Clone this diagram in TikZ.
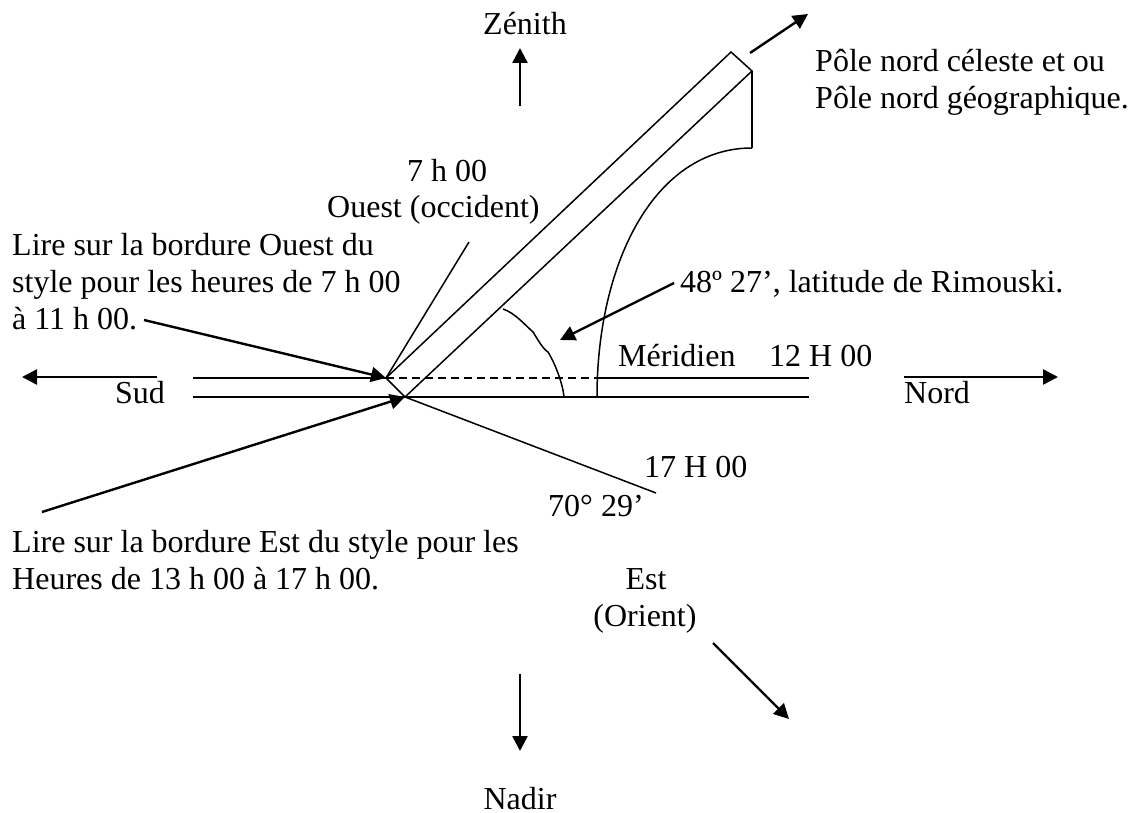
\documentclass[tikz,border=0pt]{standalone}
\usepackage{fontspec}
\setmainfont{Liberation Serif}
\usetikzlibrary{arrows.meta}
\tikzset{
  lbl/.style={inner sep=0pt,anchor=base west,font=\fontsize{32}{36}\selectfont},
  lblc/.style={inner sep=0pt,anchor=base,font=\fontsize{32}{36}\selectfont},
  ln/.style={line width=1.5pt,black},
  arr/.style={line width=2.4pt,black,-{Triangle[length=15pt,width=15pt]}}
}
\begin{document}
\begin{tikzpicture}[x=1pt,y=-1pt]
\useasboundingbox (0,0) rectangle (1133,813);
% named points
\coordinate (A) at (386,378);
\coordinate (B) at (405,397);
\coordinate (C) at (731,52);
\coordinate (D) at (752,71);
\coordinate (E) at (752,148);
\coordinate (F) at (597,397);
\coordinate (G) at (564,397);
\coordinate (H) at (503,309);
\coordinate (I) at (469,242);
\coordinate (J) at (656,493);
\coordinate (S1) at (193,378);
\coordinate (S2) at (193,397);
\coordinate (N1) at (809,378);
\coordinate (N2) at (809,397);
\coordinate (F1) at (597,378);
% lines
\draw[ln] (S1) -- (A);
\draw[ln] (F1) -- (N1);
\draw[ln] (S2) -- (B);
\draw[ln] (F) -- (N2);
\draw[line width=2.2pt] (B) -- (F);
\draw[ln,dash pattern=on 8pt off 5pt] (A) -- (F1);
\draw[ln] (A) -- (C) -- (D) -- (B) -- cycle;
\draw[ln] (A) -- (I);
\draw[ln] (B) -- (J);
\draw[ln] (D) -- (E);
\draw[ln] (E) .. controls (655,148) and (597,262) .. (F);
\draw[ln] (H) .. controls (515,313) and (525,325) .. (533,332) .. controls (538,340) and (543,349) .. (548,352) .. controls (556,365) and (563,385) .. (G);
% arrows
\coordinate (z1) at (520,106); \coordinate (z2) at (520,48);
\coordinate (p1) at (750,53);  \coordinate (p2) at (808,14);
\coordinate (n1) at (520,674); \coordinate (n2) at (520,751);
\coordinate (e1) at (713,643); \coordinate (e2) at (789,719);
\coordinate (s1) at (157,377); \coordinate (s2) at (22,377);
\coordinate (no1) at (904,377); \coordinate (no2) at (1058,377);
\coordinate (o1) at (144,320);
\coordinate (l1) at (674,283); \coordinate (l2) at (560,340);
\coordinate (w1) at (42,512);
\draw[arr] (z1) -- (z2);
\draw[arr] (p1) -- (p2);
\draw[arr] (n1) -- (n2);
\draw[arr] (e1) -- (e2);
\draw[arr] (s1) -- (s2);
\draw[arr] (no1) -- (no2);
\draw[arr] (o1) -- (A);
\draw[arr] (l1) -- (l2);
\draw[arr] (w1) -- (B);
% labels
\node[lblc] (t1) at (525,35) {Zénith};
\node[lbl] (t2) at (815,72) {Pôle nord céleste et ou};
\node[lbl] (t3) at (815,109) {Pôle nord géographique.};
\node[lbl] (t4) at (407,182) {7 h 00};
\node[lbl] (t5) at (327,218) {Ouest (occident)};
\node[lbl] (t6) at (12,256) {Lire sur la bordure Ouest du};
\node[lbl] (t7) at (12,293) {style pour les heures de 7 h 00};
\node[lbl] (t8) at (12,329) {à 11 h 00.};
\node[lbl] (t9) at (680,293) {48º 27’, latitude de Rimouski.};
\node[lbl] (t10) at (618,366) {Méridien};
\node[lbl] (t11) at (769,366) {12 H 00};
\node[lbl] (t12) at (115,403) {Sud};
\node[lbl] (t13) at (904,403) {Nord};
\node[lbl] (t14) at (644,477) {17 H 00};
\node[lbl] (t15) at (548,516) {70° 29’};
\node[lbl] (t16) at (12,552) {Lire sur la bordure Est du style pour les};
\node[lbl] (t17) at (12,589) {Heures de 13 h 00 à 17 h 00.};
\node[lblc] (t18) at (646,589) {Est};
\node[lblc] (t19) at (645,626) {(Orient)};
\node[lblc] (t20) at (520,809) {Nadir};
\end{tikzpicture}
\end{document}
